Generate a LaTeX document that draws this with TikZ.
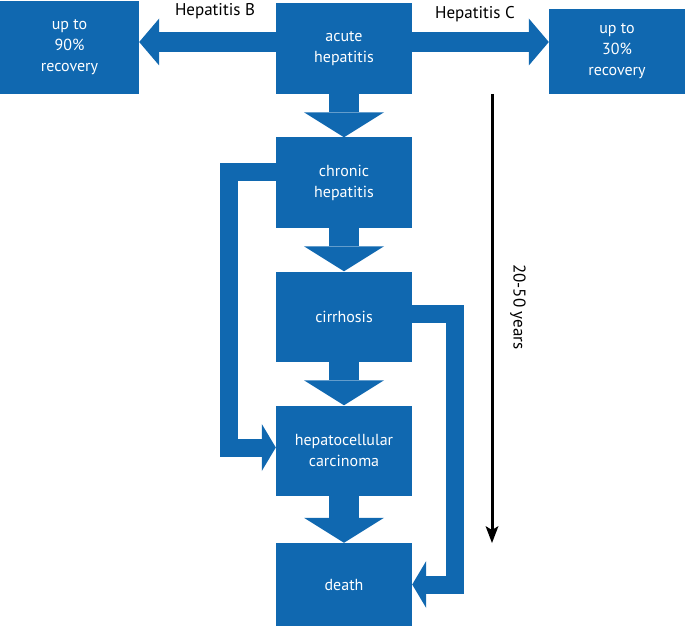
\documentclass[tikz,border=0pt]{standalone}
\usepackage{fontspec}
\setmainfont{PT Sans}
\usetikzlibrary{arrows.meta}
\definecolor{hepblue}{RGB}{16,104,176}
\tikzstyle{stage} = [rectangle, fill=hepblue, text=white, minimum width=136pt, minimum height=90pt, inner sep=0pt, align=center, font=\fontsize{16}{21}\selectfont]
\tikzstyle{virus} = [inner sep=0pt, font=\fontsize{17}{21}\selectfont]
\tikzstyle{flow} = [draw=hepblue, line width=30pt, -{Triangle[length=25pt,width=80pt,line width=0pt,color=hepblue]}]
\tikzstyle{branch} = [draw=hepblue, line width=20pt, -{Triangle[length=20pt,width=47pt,line width=0pt,color=hepblue]}]
\tikzstyle{bypass} = [draw=hepblue, line width=18pt, line join=miter, -{Triangle[length=14pt,width=47pt,line width=0pt,color=hepblue]}]
\tikzstyle{timeline} = [line width=3pt, -{Stealth[length=17pt,width=13pt,inset=4pt,line width=0pt]}]

\begin{document}
\begin{tikzpicture}[x=1pt, y=1pt, node distance=134pt]
		\useasboundingbox (0,0) rectangle (685,625);
		\node (acute) [stage, minimum height=91pt] at (344,576.5) {acute\\hepatitis};
		\node (recB) [stage, minimum width=139pt, minimum height=93pt] at (69.5,577.5) {up to\\90\%\\recovery};
		\node (recC) [stage, minimum height=85pt] at (617,573.5) {up to\\30\%\\recovery};
		\node (chronic) [stage, below of=acute] {chronic\\hepatitis};
		\node (cirrh) [stage, below of=chronic] {cirrhosis};
		\node (hcc) [stage, below of=cirrh] {hepatocellular\\carcinoma};
		\node (death) [stage, minimum height=83pt, below of=hcc] {death};
		\node (hepB) [virus] at (215,614) {Hepatitis B};
		\node (hepC) [virus] at (475,611) {Hepatitis C};
		\coordinate (tstart) at (492,531);
		\coordinate (tend) at (492,82);
		\node (span) [virus, rotate=-90] at (518,318) {20-50 years};

		\draw [branch] ([yshift=6.5pt]acute.west) -- ([yshift=6.5pt]acute.west -| recB.east);
		\draw [branch] ([yshift=6.5pt]acute.east) -- ([yshift=6.5pt]acute.east -| recC.west);
		\draw [flow] (acute) -- (chronic);
		\draw [flow] (chronic) -- (cirrh);
		\draw [flow] (cirrh) -- (hcc);
		\draw [flow] (hcc) -- (death);
		\draw [bypass] ([yshift=10pt]chronic.west) -- ++(-46.5pt,0) |- ([yshift=3pt]hcc.west);
		\draw [bypass] ([yshift=2.5pt]cirrh.east) -- ++(43pt,0) |- (death.east);
		\draw [timeline] (tstart) -- (tend);
\end{tikzpicture}
\end{document}
